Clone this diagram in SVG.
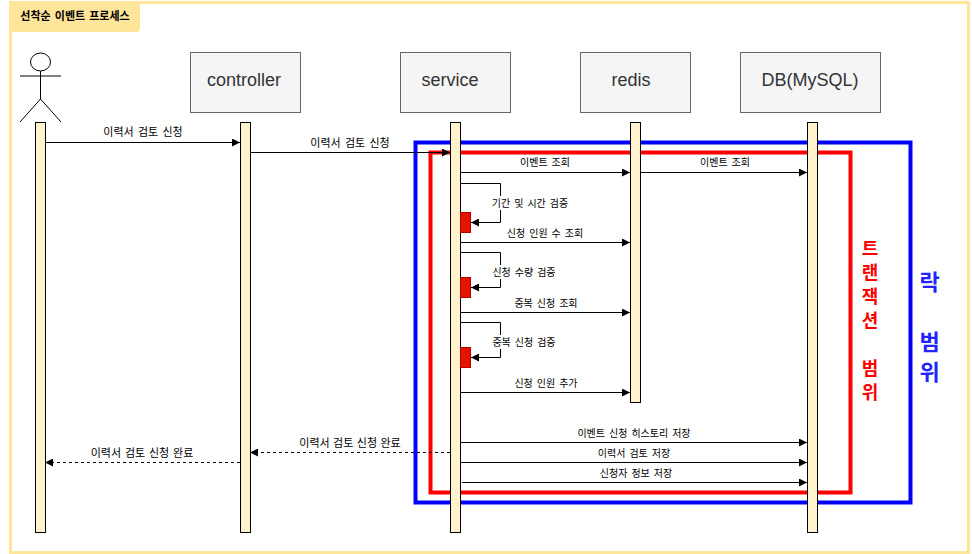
<svg xmlns="http://www.w3.org/2000/svg" width="972" height="554" viewBox="0 0 972 554">
<style>
text{font-family:"Liberation Sans","Noto Sans CJK KR",sans-serif;text-anchor:middle}
.life{fill:#fff2cc;stroke:#000;stroke-width:1}
.box{fill:#f5f5f5;stroke:#666;stroke-width:1}
.boxt{font-size:18px;fill:#333}
.msg{fill:none;stroke:#000;stroke-width:1}
.dash{stroke-dasharray:3 3}
.lbl{font-size:10px;fill:#000;word-spacing:1.2px}
.lbl2{font-size:11px;fill:#000;word-spacing:1.2px}
.bg{fill:#fff}
.act{fill:#e51400;stroke:#b20000;stroke-width:1}
.actor{fill:none;stroke:#000;stroke-width:1}
.red{font-size:18px;font-weight:bold;fill:#f00}
.blue{font-size:22px;font-weight:bold;fill:#22f}
</style>
<defs>
<marker id="a" viewBox="0 0 8 8" refX="8" refY="4" markerWidth="8" markerHeight="8" markerUnits="userSpaceOnUse" orient="auto"><path d="M0 0L8 4L0 8Z" fill="#000"/></marker>
</defs>
<rect width="972" height="554" fill="#fff"/>
<g id="frame">
<rect x="10.500" y="2.500" width="958" height="550" fill="none" stroke="#ffe599" stroke-width="3"/>
<path d="M9 1H140V28Q140 32 136 32H12V35H9Z" fill="#ffe599"/>
<text x="75" y="20" font-size="11" font-weight="bold" fill="#000" word-spacing="1">선착순 이벤트 프로세스</text>
</g>
<g id="lock-range"><rect x="415.500" y="142.500" width="495" height="360" fill="none" stroke="#00f" stroke-width="4"/>
<g class="blue"><text x="929.500" y="290">락</text><text x="929.500" y="350">범</text><text x="929.500" y="380">위</text></g></g>
<g id="tx-range"><rect x="430.500" y="152.500" width="420" height="340" fill="none" stroke="#f00" stroke-width="4"/>
<g class="red"><text x="870" y="255">트</text><text x="870" y="279">랜</text><text x="870" y="303">잭</text><text x="870" y="327">션</text><text x="870" y="375">범</text><text x="870" y="399">위</text></g></g>
<g id="actor" class="actor"><ellipse cx="40.500" cy="62" rx="10" ry="9"/><path d="M40.500 71V99M20 76H61M40.500 99L20 122M40.500 99L61 122"/></g>
<g id="controller"><rect class="box" x="190.500" y="52.500" width="110" height="60"/><text class="boxt" x="244" y="86">controller</text></g>
<g id="service"><rect class="box" x="400.500" y="52.500" width="110" height="60"/><text class="boxt" x="450" y="86">service</text></g>
<g id="redis"><rect class="box" x="580.500" y="52.500" width="110" height="60"/><text class="boxt" x="631" y="86">redis</text></g>
<g id="db"><rect class="box" x="740.500" y="52.500" width="140" height="60"/><text class="boxt" x="810" y="86">DB(MySQL)</text></g>
<g id="lifelines">
<rect class="life" x="35.500" y="122.500" width="10" height="410"/>
<rect class="life" x="240.500" y="122.500" width="10" height="410"/>
<rect class="life" x="450.500" y="122.500" width="10" height="410"/>
<rect class="life" x="630.500" y="122.500" width="10" height="280"/>
<rect class="life" x="807.500" y="122.500" width="10" height="410"/>
<rect class="act" x="460.500" y="212.500" width="10" height="20"/>
<rect class="act" x="460.500" y="277.500" width="10" height="20"/>
<rect class="act" x="460.500" y="347.500" width="10" height="20"/>
</g>
<g id="connectors">
<path class="msg" marker-end="url(#a)" d="M45 142.500H240"/>
<path class="msg" marker-end="url(#a)" d="M250 152.500H450"/>
<path class="msg" marker-end="url(#a)" d="M460 172.500H630"/>
<path class="msg" marker-end="url(#a)" d="M640 172.500H807"/>
<path class="msg" marker-end="url(#a)" d="M460 183.500H500.500V222.500H471"/>
<path class="msg" marker-end="url(#a)" d="M460 242.500H630"/>
<path class="msg" marker-end="url(#a)" d="M460 252.500H500.500V287.500H471"/>
<path class="msg" marker-end="url(#a)" d="M460 312.500H630"/>
<path class="msg" marker-end="url(#a)" d="M460 322.500H500.500V357.500H471"/>
<path class="msg" marker-end="url(#a)" d="M460 392.500H630"/>
<path class="msg" marker-end="url(#a)" d="M460 442.500H807"/>
<path class="msg dash" marker-end="url(#a)" d="M450 452.500H250"/>
<path class="msg" marker-end="url(#a)" d="M460 462.500H807"/>
<path class="msg dash" marker-end="url(#a)" d="M240 462.500H45"/>
<path class="msg" marker-end="url(#a)" d="M462 482.500H807"/>
</g>
<g id="labels">
<rect class="bg" x="492" y="196" width="76" height="14"/>
<rect class="bg" x="492" y="265" width="64" height="14"/>
<rect class="bg" x="492" y="335" width="64" height="14"/>
<text class="lbl2" x="143" y="136">이력서 검토 신청</text>
<text class="lbl2" x="350" y="147">이력서 검토 신청</text>
<text class="lbl" x="545" y="166">이벤트 조회</text>
<text class="lbl" x="725" y="166">이벤트 조회</text>
<text class="lbl" x="530" y="207">기간 및 시간 검증</text>
<text class="lbl" x="545" y="237">신청 인원 수 조회</text>
<text class="lbl" x="524" y="276">신청 수량 검증</text>
<text class="lbl" x="546" y="307">중복 신청 조회</text>
<text class="lbl" x="524" y="346">중복 신청 검증</text>
<text class="lbl" x="546" y="387">신청 인원 추가</text>
<text class="lbl" x="634" y="437">이벤트 신청 히스토리 저장</text>
<text class="lbl2" x="350" y="447" style="word-spacing:.4px">이력서 검토 신청 완료</text>
<text class="lbl" x="634" y="457">이력서 검토 저장</text>
<text class="lbl2" x="142" y="457" style="word-spacing:.8px">이력서 검토 신청 완료</text>
<text class="lbl" x="636" y="477">신청자 정보 저장</text>
</g>
</svg>
